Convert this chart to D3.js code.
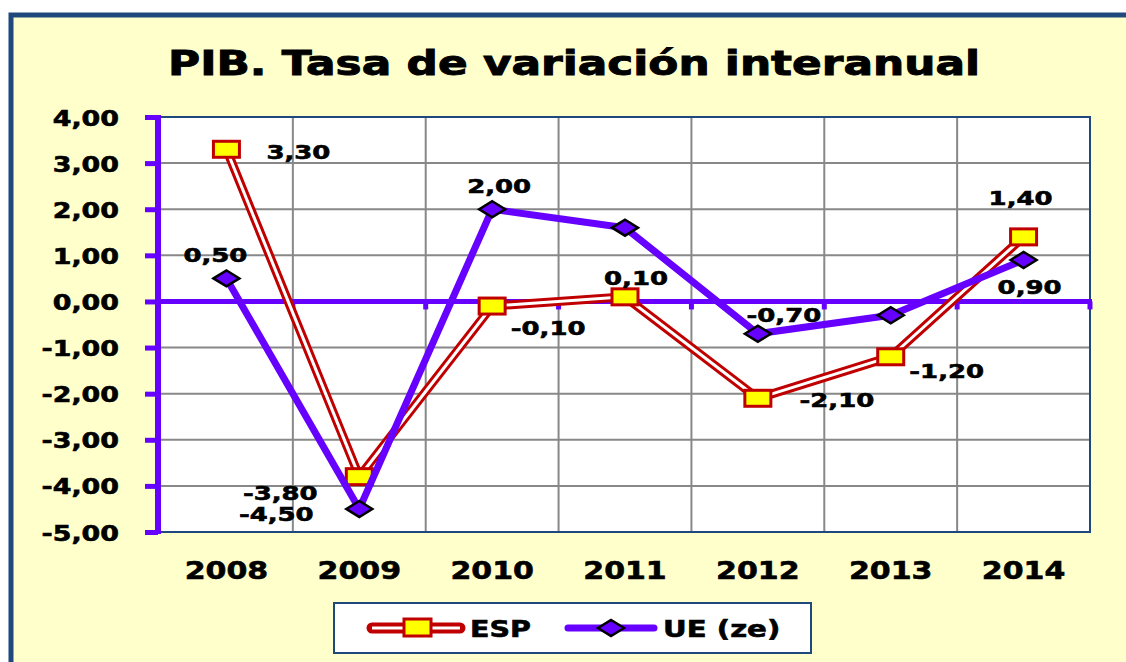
<!DOCTYPE html>
<html lang="es">
<head>
<meta charset="UTF-8">
<title>PIB. Tasa de variación interanual</title>
<script src="https://d3js.org/d3.v7.min.js"></script>
<style>
  body { margin: 0; background: #fff; }
  svg text { font-family: "DejaVu Sans", Verdana, sans-serif; font-weight: bold; fill: #000; stroke: #000; stroke-width: 0.6px; }
</style>
</head>
<body>
<div id="chart"></div>
<script>
    const years = ["2008", "2009", "2010", "2011", "2012", "2013", "2014"];
    const esp = [3.3, -3.8, -0.1, 0.1, -2.1, -1.2, 1.4];
    const ue = [0.5, -4.5, 2.0, 1.6, -0.7, -0.3, 0.9];
    const ueShown = [true, true, true, false, true, false, true];
    const yTicks = [-5, -4, -3, -2, -1, 0, 1, 2, 3, 4];

    // where each value label sits relative to its point (dx, dy to baseline)
    const espLabelOffset = [[72, 10], [-79, 23], [56, 29], [11, -12], [79, 9], [56, 21], [-3, -32]];
    const ueLabelOffset = [[-11, -16], [-83, 12], [7, -16], null, [26, -12], null, [6, 34]];

    const width = 1126, height = 662;
    const plot = { left: 160, right: 1090, top: 117, bottom: 532 };
    const purple = "#6600ff", red = "#c00000", navy = "#1f497d";
    const sx = 1.27; // text is drawn a bit wider than the font

    const svg = d3.select("#chart").append("svg")
        .attr("width", width)
        .attr("height", height);

    const fmt = v => d3.format(".2f")(v).replace(".", ",").replace("−", "-");

    function stretched(g, str, x, y, size, anchor, s) {
        return g.append("text")
            .attr("transform", `translate(${x},${y}) scale(${s || sx},1)`)
            .attr("text-anchor", anchor)
            .style("font-size", size + "px")
            .text(str);
    }

    // outer frame
    svg.append("rect")
        .attr("x", 11).attr("y", 15)
        .attr("width", 1300).attr("height", 800)
        .attr("fill", "#ffffcc")
        .attr("stroke", navy).attr("stroke-width", 5);

    // title
    svg.append("text")
        .attr("x", 168).attr("y", 75)
        .attr("textLength", 812)
        .attr("lengthAdjust", "spacingAndGlyphs")
        .style("font-size", "33px")
        .style("stroke-width", "0.9px")
        .text("PIB. Tasa de variación interanual");

    const x = d3.scaleBand().domain(years).range([plot.left, plot.right]);
    const y = d3.scaleLinear().domain([-5, 4]).range([plot.bottom, plot.top]);
    const cx = d => x(d) + x.bandwidth() / 2;

    // plot area
    svg.append("rect")
        .attr("x", plot.left).attr("y", plot.top)
        .attr("width", plot.right - plot.left).attr("height", plot.bottom - plot.top)
        .attr("fill", "#fff");

    const grid = svg.append("g").attr("stroke", "#888").attr("stroke-width", 2);
    grid.selectAll(".hg").data(yTicks.filter(t => t > -5 && t < 4 && t !== 0)).join("line")
        .attr("x1", plot.left).attr("x2", plot.right)
        .attr("y1", d => y(d)).attr("y2", d => y(d));
    grid.selectAll(".vg").data(years.slice(1)).join("line")
        .attr("x1", d => x(d)).attr("x2", d => x(d))
        .attr("y1", plot.top).attr("y2", plot.bottom);

    // plot border top / right / bottom
    svg.append("path")
        .attr("d", `M${plot.left},${plot.top}H${plot.right}V${plot.bottom}H${plot.left}`)
        .attr("fill", "none").attr("stroke", navy).attr("stroke-width", 2);

    // y axis
    const yAxis = d3.axisLeft(y).tickValues(yTicks).tickSize(13).tickFormat(fmt);
    const ya = svg.append("g").attr("transform", `translate(${plot.left - 2},0)`).call(yAxis);
    ya.select(".domain").remove();
    ya.selectAll(".tick line").attr("stroke", purple).attr("stroke-width", 5);
    ya.selectAll(".tick text").remove();
    ya.selectAll(".tick").each(function (d) {
        stretched(d3.select(this), fmt(d), -39, 8, 21.5, "end", 1.25);
    });
    svg.append("line")
        .attr("x1", plot.left - 2).attr("x2", plot.left - 2)
        .attr("y1", plot.top - 2).attr("y2", plot.bottom + 2)
        .attr("stroke", purple).attr("stroke-width", 6);

    // zero line with category ticks
    svg.append("line")
        .attr("x1", plot.left).attr("x2", plot.right + 2)
        .attr("y1", y(0)).attr("y2", y(0))
        .attr("stroke", purple).attr("stroke-width", 5);
    const bounds = years.slice(1).map(d => x(d)).concat([plot.right]);
    svg.selectAll(".xt").data(bounds).join("line")
        .attr("x1", d => d).attr("x2", d => d)
        .attr("y1", y(0)).attr("y2", y(0) + 8)
        .attr("stroke", purple).attr("stroke-width", 5);

    // category labels
    const xl = svg.append("g");
    years.forEach(yr => stretched(xl, yr, cx(yr), 579, 24, "middle", 1.25));

    const line = d3.line().x((d, i) => cx(years[i])).y(d => y(d));

    // ESP: double red line
    svg.append("path").datum(esp).attr("d", line)
        .attr("fill", "none").attr("stroke", red).attr("stroke-width", 9)
        .attr("stroke-linejoin", "miter");
    svg.append("path").datum(esp).attr("d", line)
        .attr("fill", "none").attr("stroke", "#fff").attr("stroke-width", 3)
        .attr("stroke-linejoin", "miter");
    svg.selectAll(".esp-m").data(esp).join("rect")
        .attr("x", (d, i) => cx(years[i]) - 13)
        .attr("y", d => y(d) - 8)
        .attr("width", 26).attr("height", 16)
        .attr("fill", "#ffff00").attr("stroke", red).attr("stroke-width", 3);

    // UE line
    svg.append("path").datum(ue).attr("d", line)
        .attr("fill", "none").attr("stroke", purple).attr("stroke-width", 7)
        .attr("stroke-linejoin", "round");
    const diamond = (px, py) => `M${px - 13},${py}L${px},${py - 8}L${px + 13},${py}L${px},${py + 8}Z`;
    svg.selectAll(".ue-m").data(ue).join("path")
        .attr("d", (d, i) => diamond(cx(years[i]), y(d)))
        .attr("fill", purple).attr("stroke", "#000").attr("stroke-width", 2.5);

    // value labels
    const labels = svg.append("g");
    esp.forEach((v, i) => {
        const o = espLabelOffset[i];
        stretched(labels, fmt(v), cx(years[i]) + o[0], y(v) + o[1], 19.5, "middle", 1.33);
    });
    ue.forEach((v, i) => {
        if (!ueShown[i]) return;
        const o = ueLabelOffset[i];
        stretched(labels, fmt(v), cx(years[i]) + o[0], y(v) + o[1], 19.5, "middle", 1.33);
    });

    // legend
    const lg = svg.append("g");
    lg.append("rect")
        .attr("x", 334).attr("y", 603).attr("width", 477).attr("height", 50)
        .attr("fill", "#fff").attr("stroke", navy).attr("stroke-width", 2);
    lg.append("line").attr("x1", 372).attr("x2", 460).attr("y1", 628).attr("y2", 628)
        .attr("stroke", red).attr("stroke-width", 11).attr("stroke-linecap", "round");
    lg.append("line").attr("x1", 372).attr("x2", 460).attr("y1", 628).attr("y2", 628)
        .attr("stroke", "#fff").attr("stroke-width", 3);
    lg.append("rect").attr("x", 404).attr("y", 619).attr("width", 27).attr("height", 17)
        .attr("fill", "#ffff00").attr("stroke", red).attr("stroke-width", 3);
    stretched(lg, "ESP", 470, 637, 23, "start", 1.24);
    lg.append("line").attr("x1", 568).attr("x2", 654).attr("y1", 628).attr("y2", 628)
        .attr("stroke", purple).attr("stroke-width", 7).attr("stroke-linecap", "round");
    lg.append("path").attr("d", diamond(611, 628))
        .attr("fill", purple).attr("stroke", "#000").attr("stroke-width", 2.5);
    stretched(lg, "UE (ze)", 663, 637, 23, "start", 1.27);
</script>
</body>
</html>
